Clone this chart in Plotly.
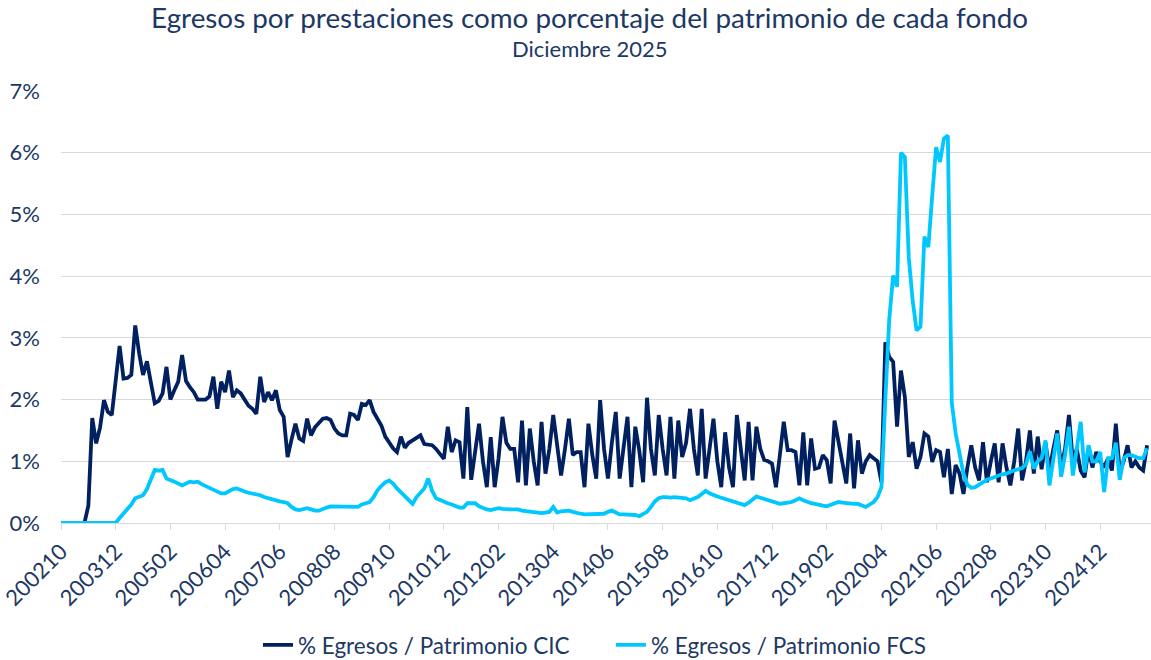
import plotly.graph_objects as go

# ---- data (values in %) ----
start_year, start_month, n_months = 2002, 10, 279
periods = []
y, m = start_year, start_month
for _ in range(n_months):
    periods.append(f"{y}{m:02d}")
    m += 1
    if m > 12:
        m = 1
        y += 1

tick_labels = ["200210", "200312", "200502", "200604", "200706", "200808", "200910",
               "201012", "201202", "201304", "201406", "201508", "201610", "201712",
               "201902", "202004", "202106", "202208", "202310", "202412"]

cic = [
    0, 0, 0, 0, 0, 0, 0, 0.28, 1.70, 1.29,                 # 0
    1.55, 1.99, 1.80, 1.75, 2.30, 2.87, 2.34, 2.35, 2.40, 3.20,  # 10
    2.75, 2.40, 2.62, 2.25, 1.94, 1.98, 2.10, 2.53, 2.00, 2.15,  # 20
    2.29, 2.72, 2.30, 2.20, 2.12, 2.00, 2.00, 2.00, 2.05, 2.37,  # 30
    1.85, 2.29, 2.12, 2.47, 2.04, 2.15, 2.10, 1.99, 1.90, 1.85,  # 40
    1.77, 2.37, 1.96, 2.12, 1.99, 2.15, 1.83, 1.72, 1.07, 1.35,  # 50
    1.61, 1.37, 1.33, 1.69, 1.42, 1.55, 1.61, 1.69, 1.70, 1.67,  # 60
    1.53, 1.45, 1.42, 1.42, 1.77, 1.75, 1.67, 1.93, 1.91, 1.99,  # 70
    1.80, 1.68, 1.58, 1.40, 1.29, 1.21, 1.15, 1.40, 1.22, 1.30,  # 80
    1.34, 1.38, 1.42, 1.28, 1.27, 1.26, 1.20, 1.12, 1.04, 1.56,  # 90
    1.15, 1.34, 1.31, 0.72, 1.88, 0.70, 1.20, 1.61, 1.00, 0.58,  # 100
    1.39, 0.58, 1.05, 1.72, 1.30, 1.20, 1.20, 0.66, 1.66, 0.61,  # 110
    1.53, 1.00, 0.61, 1.64, 0.80, 1.20, 1.75, 1.20, 0.77, 1.20,  # 120
    1.69, 1.10, 1.15, 1.15, 0.58, 1.61, 1.10, 0.72, 1.99, 1.20,  # 130
    0.72, 1.30, 1.80, 0.72, 1.20, 1.72, 0.58, 1.56, 1.18, 0.66,  # 140
    2.03, 1.20, 0.77, 1.75, 1.20, 0.77, 1.72, 0.72, 1.66, 1.07,  # 150
    1.30, 1.85, 1.20, 0.77, 1.85, 0.72, 1.20, 1.69, 1.00, 0.58,  # 160
    1.47, 0.90, 0.58, 1.75, 1.20, 0.69, 1.64, 0.69, 1.56, 1.20,  # 170
    1.02, 1.00, 0.96, 0.58, 1.10, 1.64, 1.18, 1.18, 1.15, 0.61,  # 180
    1.47, 0.61, 1.37, 0.88, 0.90, 1.10, 1.02, 0.64, 1.66, 1.30,  # 190
    1.02, 0.64, 1.45, 0.56, 1.34, 0.80, 1.00, 1.10, 1.05, 1.00,  # 200
    0.66, 2.93, 2.69, 2.61, 1.56, 2.47, 2.04, 1.07, 1.31, 0.88,  # 210
    1.07, 1.45, 1.40, 0.99, 1.18, 1.15, 0.74, 1.20, 0.47, 0.94,  # 220
    0.80, 0.47, 0.90, 1.26, 0.90, 0.69, 1.31, 0.66, 1.00, 1.29,  # 230
    0.66, 1.29, 0.90, 0.61, 1.00, 1.53, 0.69, 1.00, 1.50, 0.80,  # 240
    1.40, 0.87, 1.30, 0.85, 1.20, 1.50, 0.90, 1.20, 1.75, 1.00,  # 250
    1.20, 0.85, 0.74, 1.20, 0.90, 1.15, 1.00, 0.90, 1.05, 0.85,  # 260
    1.61, 0.82, 1.00, 1.26, 0.90, 1.00, 0.90, 0.85, 1.26,        # 270
]

fcs = [
    0, 0, 0, 0, 0, 0, 0, 0, 0, 0,                                # 0
    0, 0, 0, 0, 0.00, 0.08, 0.15, 0.22, 0.30, 0.40,              # 10
    0.42, 0.45, 0.55, 0.72, 0.86, 0.85, 0.86, 0.72, 0.70, 0.67,  # 20
    0.64, 0.61, 0.64, 0.67, 0.66, 0.67, 0.63, 0.60, 0.57, 0.53,  # 30
    0.50, 0.48, 0.48, 0.52, 0.55, 0.56, 0.53, 0.51, 0.49, 0.48,  # 40
    0.46, 0.45, 0.42, 0.40, 0.38, 0.37, 0.35, 0.34, 0.32, 0.26,  # 50
    0.22, 0.21, 0.22, 0.24, 0.22, 0.20, 0.20, 0.23, 0.25, 0.27,  # 60
    0.27, 0.26, 0.26, 0.26, 0.26, 0.26, 0.26, 0.30, 0.32, 0.34,  # 70
    0.42, 0.53, 0.60, 0.66, 0.69, 0.64, 0.56, 0.50, 0.45, 0.38,  # 80
    0.31, 0.42, 0.50, 0.56, 0.72, 0.52, 0.40, 0.37, 0.34, 0.32,  # 90
    0.30, 0.28, 0.25, 0.25, 0.32, 0.32, 0.32, 0.27, 0.24, 0.22,  # 100
    0.21, 0.22, 0.24, 0.23, 0.22, 0.22, 0.22, 0.22, 0.20, 0.19,  # 110
    0.18, 0.18, 0.17, 0.16, 0.17, 0.18, 0.26, 0.17, 0.19, 0.20,  # 120
    0.20, 0.18, 0.16, 0.15, 0.14, 0.14, 0.14, 0.14, 0.15, 0.15,  # 130
    0.18, 0.20, 0.17, 0.14, 0.14, 0.14, 0.14, 0.13, 0.11, 0.14,  # 140
    0.18, 0.26, 0.35, 0.40, 0.42, 0.42, 0.41, 0.42, 0.41, 0.41,  # 150
    0.40, 0.37, 0.40, 0.42, 0.47, 0.52, 0.48, 0.45, 0.43, 0.41,  # 160
    0.39, 0.37, 0.35, 0.32, 0.31, 0.29, 0.33, 0.38, 0.43, 0.41,  # 170
    0.39, 0.37, 0.35, 0.33, 0.31, 0.32, 0.33, 0.34, 0.37, 0.40,  # 180
    0.37, 0.34, 0.32, 0.31, 0.29, 0.28, 0.27, 0.29, 0.31, 0.34,  # 190
    0.33, 0.32, 0.32, 0.31, 0.31, 0.28, 0.26, 0.30, 0.34, 0.42,  # 200
    0.58, 2.00, 3.30, 4.01, 3.83, 6.00, 5.93, 4.30, 3.60, 3.12,  # 210
    3.18, 4.64, 4.47, 5.30, 6.09, 5.85, 6.23, 6.28, 1.95, 1.45,  # 220
    1.10, 0.80, 0.62, 0.57, 0.58, 0.62, 0.66, 0.70, 0.72, 0.75,  # 230
    0.77, 0.79, 0.80, 0.83, 0.85, 0.87, 0.89, 0.95, 1.16, 0.88,  # 240
    1.00, 1.05, 1.34, 0.61, 1.00, 1.45, 0.75, 1.10, 1.56, 0.77,  # 250
    1.20, 1.64, 0.82, 1.26, 1.00, 1.00, 1.15, 0.50, 1.05, 1.05,  # 260
    1.30, 0.70, 1.05, 1.10, 1.10, 1.08, 1.05, 1.05, 1.21,        # 270
]

assert len(cic) == n_months and len(fcs) == n_months, (len(cic), len(fcs))

series_names = ["% Egresos / Patrimonio CIC", "% Egresos / Patrimonio FCS"]
series_colors = ["#002060", "#00C8FF"]
title_text = "Egresos por prestaciones como porcentaje del patrimonio de cada fondo"
subtitle_text = "Diciembre 2025"

FONT = "Lato"
TXT = "#203864"

fig = go.Figure()
for vals, name, col in zip([cic, fcs], series_names, series_colors):
    fig.add_trace(go.Scatter(
        x=list(range(n_months)), y=[v / 100 for v in vals], mode="lines", name=name,
        line=dict(color=col, width=3.8),
    ))

tick_idx = [periods.index(t) for t in tick_labels]

fig.update_layout(
    width=1151, height=660,
    margin=dict(l=61, r=0, t=91, b=137, autoexpand=False),
    paper_bgcolor="white", plot_bgcolor="white",
    font=dict(family=FONT, color=TXT),
    showlegend=True,
    legend=dict(orientation="h", x=0.1807, xanchor="left", y=-0.283, yanchor="middle",
                entrywidth=308, entrywidthmode="pixels",
                font=dict(size=22.5, color=TXT, family=FONT), bgcolor="rgba(0,0,0,0)"),
    xaxis=dict(
        range=[0, 279], tickmode="array", tickvals=tick_idx, ticktext=tick_labels,
        tickangle=-45, tickfont=dict(size=22, color=TXT), automargin=False,
        ticklabeloverflow="allow",
        showgrid=False, zeroline=False, showline=True, linecolor="#D9D9D9", linewidth=1,
        ticks="outside", ticklen=6, tickcolor="#D9D9D9",
    ),
    yaxis=dict(
        range=[0, 0.07], tickmode="array", tickvals=[i / 100 for i in range(8)],
        tickformat=".0%", tickfont=dict(size=22, color=TXT), automargin=False,
        ticklabeloverflow="allow",
        showgrid=True, gridcolor="#D9D9D9", gridwidth=1, zeroline=False,
        showline=False, ticks="", ticklabelstandoff=20,
    ),
    annotations=[
        dict(text=title_text, xref="paper", yref="paper", x=0.485, y=1.171,
             xanchor="center", yanchor="middle", showarrow=False,
             font=dict(size=27.8, color=TXT, family=FONT)),
        dict(text=subtitle_text, xref="paper", yref="paper", x=0.485, y=1.099,
             xanchor="center", yanchor="middle", showarrow=False,
             font=dict(size=22, color=TXT, family=FONT)),
    ],
)

fig.write_html("out.html", config={"displayModeBar": False},
               post_script="document.body.style.margin='0px';document.body.style.overflow='hidden';")
